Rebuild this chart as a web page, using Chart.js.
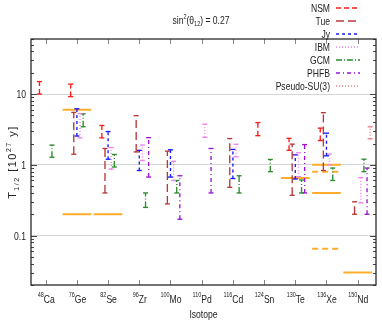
<!DOCTYPE html>
<html>

<head>
    <meta charset='UTF-8'>
    <title></title>
    <style>
        body { margin: 0; background: #fff; }
        #chart-container { width: 382px; height: 327px; }
    </style>
</head>

<body>
    <script src="https://cdn.jsdelivr.net/npm/chart.js@4.4.0/dist/chart.umd.min.js"></script>
    <div id="chart-container">
        <canvas id="chart" width="382" height="327"></canvas>
    </div>

    <script>
        // ---- data (half-life ranges, 10^27 y) ----
        const massNumbers = ['48', '76', '82', '96', '100', '110', '116', '124', '130', '136', '150'];
        const elements = ['Ca', 'Ge', 'Se', 'Zr', 'Mo', 'Pd', 'Cd', 'Sn', 'Te', 'Xe', 'Nd'];

        const nsmLow = [10, 9.2, 2.4, null, null, null, null, 2.58, 1.6, 2.2, null];
        const nsmHigh = [15, 13.8, 3.6, null, null, null, null, 3.95, 2.37, 3.3, null];
        const tueLow = [null, 1.41, 0.40, 1.52, 0.28, null, 0.48, null, 0.37, 0.83, 0.20];
        const tueHigh = [null, 5.5, 1.7, 4.95, 1.56, null, 2.35, null, 1.96, 5.45, 0.30];
        const jyLow = [null, 2.55, 1.2, 0.83, 0.67, null, 0.64, null, 0.63, 1.34, null];
        const jyHigh = [null, 6.2, 2.95, 1.6, 1.63, null, 1.65, null, 1.38, 2.8, null];
        const ibmLow = [null, 2.4, 0.87, 1.15, 0.6, 2.45, 1.3, null, 0.68, 1.0, 0.29];
        const ibmHigh = [null, 5.3, 1.75, 1.9, 1.12, 3.75, 1.95, null, 1.48, 1.42, 0.66];
        const gcmLow = [1.28, 3.45, 0.93, 0.25, 0.4, null, 0.4, 0.8, 0.4, 0.6, 0.8];
        const gcmHigh = [1.9, 5.25, 1.4, 0.4, 0.6, null, 0.7, 1.19, 0.61, 0.9, 1.2];
        const phfbLow = [null, null, null, 0.67, 0.17, 0.40, null, null, 0.40, null, 0.20];
        const phfbHigh = [null, null, null, 2.42, 0.70, 1.7, null, null, 1.93, null, 0.90];
        const psuLow = [null, null, null, null, null, null, null, null, null, null, 2.33];
        const psuHigh = [null, null, null, null, null, null, null, null, null, null, 3.45];

        // experimental limits (orange lines)
        const limitIsotope = [1, 1, 2, 8, 9, 9, 9, 9, 10];
        const limitValue = [6.0, 0.2, 0.2, 0.65, 1.0, 0.8, 0.4, 0.065, 0.03];
        const limitDashed = [false, false, false, false, false, true, false, true, false];

        const models = [
            { label: 'NSM', low: nsmLow, high: nsmHigh, off: -0.2, color: '#ff1a1a', dash: [5, 3] },
            { label: 'Tue', low: tueLow, high: tueHigh, off: -0.1, color: '#b83838', dash: [8, 4] },
            { label: 'Jy', low: jyLow, high: jyHigh, off: 0, color: '#1a1aff', dash: [3, 3] },
            { label: 'IBM', low: ibmLow, high: ibmHigh, off: 0.1, color: '#ee82ee', dash: [1, 2] },
            { label: 'GCM', low: gcmLow, high: gcmHigh, off: 0.2, color: '#2a8c2a', dash: [6, 2, 1, 2] },
            { label: 'PHFB', low: phfbLow, high: phfbHigh, off: 0.3, color: '#9a14d6', dash: [4, 3, 1, 3] },
            { label: 'Pseudo-SU(3)', low: psuLow, high: psuHigh, off: 0.4, color: '#f08080', dash: [1, 2] }
        ];

        const FONT = "'Liberation Sans', Arial, sans-serif";
        const SX = 0.78;

        function barPoints(m) {
            let pts = [];
            for (let i = 0; i < m.low.length; i++) {
                if (m.low[i] == null) continue;
                pts.push({ x: i + m.off, y: m.low[i] });
                pts.push({ x: i + m.off, y: m.high[i] });
                pts.push({ x: i + m.off, y: null });
            }
            return pts;
        }

        function limitPoints(dashed) {
            let pts = [];
            for (let k = 0; k < limitValue.length; k++) {
                if (limitDashed[k] !== dashed) continue;
                pts.push({ x: limitIsotope[k] - 0.46, y: limitValue[k] });
                pts.push({ x: limitIsotope[k] + 0.46, y: limitValue[k] });
                pts.push({ x: limitIsotope[k], y: null });
            }
            return pts;
        }

        let datasets = models.map(function(m) {
            return {
                label: m.label,
                legend: true,
                data: barPoints(m),
                showLine: true,
                spanGaps: false,
                borderColor: m.color,
                borderWidth: 1.35,
                borderDash: m.dash,
                pointStyle: 'line',
                pointRadius: 2.5,
                pointBorderWidth: 1.35,
                pointBorderColor: m.color,
                pointBackgroundColor: m.color
            };
        });
        datasets.push({
            label: 'limits', data: limitPoints(false), showLine: true, spanGaps: false,
            borderColor: '#ffad2a', borderWidth: 2, pointRadius: 0, order: 10
        });
        datasets.push({
            label: 'limits dashed', data: limitPoints(true), showLine: true, spanGaps: false,
            borderColor: '#ffad2a', borderWidth: 2, borderDash: [6, 4], pointRadius: 0, order: 10
        });

        // text pieces: [text, size, dy]
        function drawRich(ctx, parts, x, y, align, sx) {
            let widths = parts.map(function(p) {
                ctx.font = p[1] + 'px ' + FONT;
                return ctx.measureText(p[0]).width * sx;
            });
            let total = widths.reduce(function(a, b) { return a + b; }, 0);
            let cx = align === 'center' ? x - total / 2 : (align === 'right' ? x - total : x);
            parts.forEach(function(p, k) {
                ctx.font = p[1] + 'px ' + FONT;
                ctx.save();
                ctx.translate(cx, y + (p[2] || 0));
                ctx.scale(sx, 1);
                ctx.fillText(p[0], 0, 0);
                ctx.restore();
                cx += widths[k];
            });
        }

        const framePlugin = {
            id: 'frame',
            afterDraw(chart) {
                const ctx = chart.ctx;
                const a = chart.chartArea;
                const xs = chart.scales.x, ys = chart.scales.y;
                ctx.save();
                ctx.textBaseline = 'alphabetic';
                ctx.textAlign = 'left';

                // y ticks (inward, both sides)
                ctx.strokeStyle = '#444';
                ctx.lineWidth = 1;
                for (let e = -2; e <= 1; e++) {
                    for (let m = 1; m <= 9; m++) {
                        let v = m * Math.pow(10, e);
                        if (v < ys.min || v > ys.max) continue;
                        let y = Math.round(ys.getPixelForValue(v)) + 0.5;
                        let len = m === 1 ? 6 : 3;
                        ctx.beginPath();
                        ctx.moveTo(a.left, y); ctx.lineTo(a.left + len, y);
                        ctx.moveTo(a.right, y); ctx.lineTo(a.right - len, y);
                        ctx.stroke();
                    }
                }
                // x ticks
                ctx.strokeStyle = '#888';
                for (let i = 0; i < elements.length; i++) {
                    let x = Math.round(xs.getPixelForValue(i)) + 0.5;
                    ctx.beginPath();
                    ctx.moveTo(x, a.bottom); ctx.lineTo(x, a.bottom - 5);
                    ctx.moveTo(x, a.top); ctx.lineTo(x, a.top + 5);
                    ctx.stroke();
                }
                // frame
                ctx.strokeStyle = '#2a2a2a';
                ctx.lineWidth = 1.3;
                ctx.strokeRect(a.left, a.top, a.right - a.left, a.bottom - a.top);

                ctx.fillStyle = '#222';
                // y tick labels
                [0.1, 1, 10].forEach(function(v) {
                    drawRich(ctx, [[String(v), 11]], a.left - 5, ys.getPixelForValue(v) + 4, 'right', SX);
                });
                // x tick labels
                for (let i = 0; i < elements.length; i++) {
                    drawRich(ctx, [[massNumbers[i], 7, -6], [elements[i], 11]],
                        xs.getPixelForValue(i) + 0.5, 303, 'center', SX);
                }
                // axis titles
                drawRich(ctx, [['Isotope', 11]], (a.left + a.right) / 2, 318, 'center', SX);
                ctx.save();
                ctx.translate(16, (a.top + a.bottom) / 2);
                ctx.rotate(-Math.PI / 2);
                if ('letterSpacing' in ctx) ctx.letterSpacing = '1.5px';
                drawRich(ctx, [['T', 11], ['1/2', 7, 2.5], [' [10', 11], ['27', 7, -5], [' y]', 11]],
                    0, 0, 'center', 1);
                ctx.restore();
                // title
                drawRich(ctx, [['sin', 11], ['2', 7, -5], ['(\u03b8', 11], ['12', 7, 2.5], [') = 0.27', 11]],
                    201, 23.5, 'center', SX);

                // legend
                let row = 0;
                chart.data.datasets.forEach(function(ds) {
                    if (!ds.legend) return;
                    let yc = 8 + row * 13;
                    ctx.fillStyle = '#222';
                    drawRich(ctx, [[ds.label, 11]], 330, yc + 4, 'right', SX);
                    ctx.strokeStyle = ds.borderColor;
                    ctx.lineWidth = 1.4;
                    ctx.setLineDash(ds.borderDash || []);
                    ctx.beginPath();
                    ctx.moveTo(336, yc); ctx.lineTo(360, yc);
                    ctx.stroke();
                    ctx.setLineDash([]);
                    row++;
                });
                ctx.restore();
            }
        };

        let context = document.getElementById('chart').getContext('2d');
        let chart = new Chart(context, {
            type: 'scatter',
            data: { datasets: datasets },
            options: {
                responsive: false,
                animation: false,
                events: [],
                layout: { padding: { left: 31, right: 6, top: 39, bottom: 42 } },
                plugins: { legend: { display: false }, tooltip: { enabled: false }, title: { display: false } },
                scales: {
                    x: {
                        type: 'linear', min: -0.471, max: 10.587,
                        grid: { display: false }, border: { display: false },
                        ticks: { display: false },
                        afterFit: function(s) { s.height = 0; }
                    },
                    y: {
                        type: 'logarithmic', min: 0.02, max: 60,
                        border: { display: false },
                        grid: { color: '#d4d4d4', lineWidth: 1, drawTicks: false },
                        ticks: { display: false },
                        afterBuildTicks: function(s) { s.ticks = [{ value: 0.1 }, { value: 1 }, { value: 10 }]; },
                        afterFit: function(s) { s.width = 0; }
                    }
                }
            },
            plugins: [framePlugin]
        });
    </script>

</body>

</html>
